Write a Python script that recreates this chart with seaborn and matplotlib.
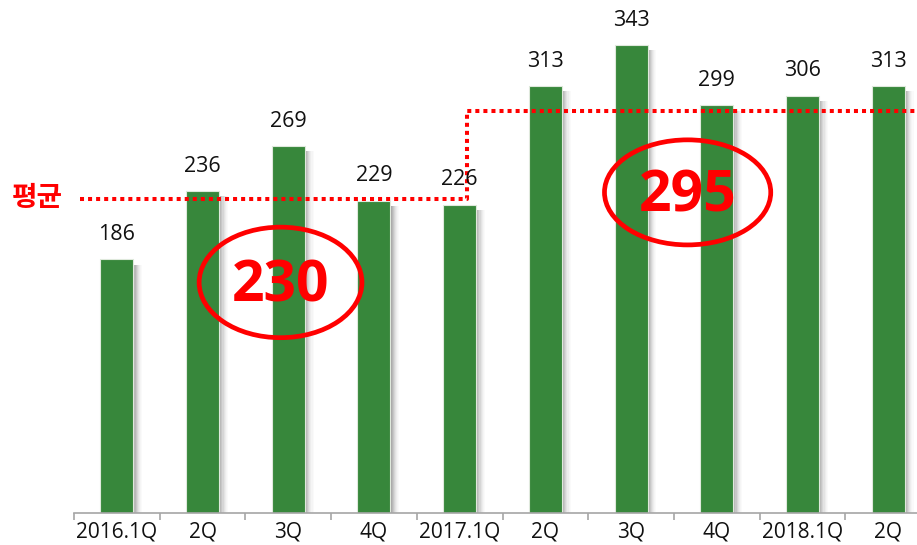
import matplotlib
matplotlib.use("Agg")
import matplotlib.pyplot as plt
from matplotlib.patches import Ellipse
import numpy as np
import seaborn as sns

quarters = ["2016.1Q", "2Q", "3Q", "4Q", "2017.1Q", "2Q", "3Q", "4Q", "2018.1Q", "2Q"]
sales = [186, 236, 269, 229, 226, 313, 343, 299, 306, 313]
avg_values = [230, 295]
avg_label = "평균"

sns.set_theme(style="white")
plt.rcParams["font.family"] = ["Open Sans", "Noto Sans CJK KR", "DejaVu Sans"]

fig = plt.figure(figsize=(9.17, 5.45), dpi=100)
# axes runs past the right edge on purpose, the original is cropped there
ax = fig.add_axes([74 / 917, 1 - 513 / 545, 857 / 917, 513 / 545])

x = np.arange(len(sales))
bar_w = 0.385

# soft grey shadow on the right side of every bar
strip = 0.013
for k, a in enumerate([0.34, 0.28, 0.22, 0.16, 0.11, 0.07, 0.04, 0.02]):
    ax.bar(x + bar_w / 2 + strip * (k + 0.5), np.array(sales) - 4, width=strip,
           bottom=0, color="black", alpha=a, linewidth=0, align="center")

sns.barplot(x=list(range(len(sales))), y=sales, color="#37873b", saturation=1,
            width=bar_w, ax=ax, edgecolor="#dfe9dc", linewidth=0.8, native_scale=True)

for xi, v in zip(x, sales):
    ax.annotate(str(v), (xi, v), xytext=(0, 14), textcoords="offset points",
                ha="center", va="baseline", fontsize=15.5, color="#111111")

# average step line
line_kw = dict(color="#ff0000", lw=2.9, dashes=(1, 1), dash_capstyle="butt")
ax.plot([-0.43, 4.08, 4.08, 9.5], [avg_values[0], avg_values[0], avg_values[1], avg_values[1]],
        **line_kw)
ax.text(-0.93, avg_values[0] + 1, avg_label, ha="center", va="center", fontsize=20,
        fontweight="bold", color="#ff0000", family=["Noto Sans CJK KR", "DejaVu Sans"],
        clip_on=False)

# circled averages
for cx, cy, w, h, val in [(1.91, 169, 1.90, 81, avg_values[0]), (6.66, 235, 1.94, 77, avg_values[1])]:
    ax.add_patch(Ellipse((cx, cy), w, h, fill=False, edgecolor="#ff0000", lw=3.4))
    ax.text(cx, cy - 3, str(val), ha="center", va="center", fontsize=41,
            fontweight="bold", color="#ff0000")

ax.set_xlim(-0.5, 9.5)
ax.set_ylim(0, 376)
ax.set_yticks([])
ax.set_xticks(np.arange(-0.5, 10, 1))
ax.set_xticklabels([])
ax.set_xticks(x, minor=True)
ax.set_xticklabels(quarters, minor=True, fontsize=15, color="#111111")
ax.tick_params(axis="x", which="major", direction="out", length=5, width=1.2,
               color="#a6a6a6", bottom=True)
ax.tick_params(axis="x", which="minor", length=0, pad=6)
for s in ["top", "right", "left"]:
    ax.spines[s].set_visible(False)
ax.spines["bottom"].set_color("#a6a6a6")
ax.spines["bottom"].set_linewidth(1.2)
ax.set_xlabel("")
ax.set_ylabel("")

fig.savefig("out.png", dpi=100)
